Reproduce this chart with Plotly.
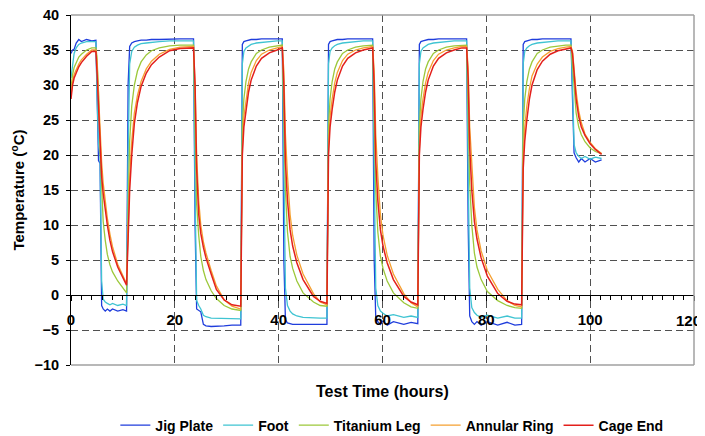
import plotly.graph_objects as go

# Test time (hours) shared by all sensors
time_h = [
    0, 0.3, 0.6, 1.0, 1.5, 2.0, 3.0, 4.0,
    4.8, 5.0, 5.3, 5.6, 5.9, 6.2, 6.6, 7.0, 7.5, 8.0, 9.0, 10.0,
    10.7, 11.0, 11.3, 11.7, 12.2, 12.8, 13.5, 14.5, 15.5, 17.0, 19.0, 21.0,
    23.6, 23.9, 24.2, 24.6, 25.0, 25.5, 26.0, 27.0, 28.0, 29.5, 31.0,
    32.7, 33.0, 33.3, 33.7, 34.2, 34.7, 35.7, 36.7, 38.2, 39.7,
    40.7, 41.0, 41.3, 41.7, 42.2, 42.7, 43.5, 44.7, 46.7, 48.0,
    49.3, 49.6, 49.9, 50.3, 50.8, 51.3, 52.3, 53.3, 54.8, 56.3,
    58.1, 58.4, 58.7, 59.1, 59.6, 60.1, 60.9, 62.1, 64.1, 65.5,
    66.8, 67.1, 67.4, 67.8, 68.3, 68.8, 69.8, 70.8, 72.3, 73.8, 75.3,
    76.2, 76.5, 76.8, 77.2, 77.7, 78.2, 79.0, 80.2, 82.2, 84.0, 85.5,
    86.8, 87.1, 87.4, 87.8, 88.3, 88.8, 89.8, 90.8, 92.3, 93.8, 95.3,
    96.3, 96.6, 96.9, 97.3, 97.8, 98.3, 99.0, 100.0, 101.0, 102.2,
]

jig_plate = [
    34.5, 35.0, 35.1, 36.0, 36.5, 36.2, 36.5, 36.3,
    36.4, 27.0, 19.2, 18.8, -1.5, -2.0, -2.3, -2.0, -2.3, -2.0, -2.3, -2.1,
    -2.3, 30.0, 35.5, 36.0, 36.2, 36.3, 36.4, 36.4, 36.5, 36.5, 36.6, 36.6,
    36.6, 10.0, -2.0, -2.2, -2.4, -4.2, -4.4, -4.5, -4.5, -4.4, -4.3,
    -4.3, 35.8, 36.2, 36.3, 36.4, 36.5, 36.5, 36.6, 36.6, 36.6,
    36.6, 5.0, -3.5, -4.0, -4.1, -4.2, -4.2, -4.2, -4.2, -4.2,
    -4.2, 35.8, 36.2, 36.3, 36.4, 36.5, 36.5, 36.6, 36.6, 36.6,
    36.6, 5.0, -3.2, -3.8, -4.2, -3.7, -4.3, -3.8, -4.2, -3.9,
    -4.1, 35.8, 36.2, 36.3, 36.4, 36.5, 36.5, 36.6, 36.6, 36.6, 36.6,
    36.6, 10.0, -3.0, -3.8, -4.2, -3.8, -4.3, -3.8, -4.3, -3.9, -4.3,
    -4.2, 35.8, 36.2, 36.3, 36.4, 36.5, 36.5, 36.6, 36.6, 36.6, 36.6,
    36.6, 28.0, 20.3, 19.6, 19.0, 19.5, 19.0, 19.5, 19.0, 19.3,
]

foot = [
    31.0, 33.0, 34.5, 35.3, 35.8, 36.0, 36.2, 36.2,
    36.2, 29.0, 21.5, 19.8, 2.0, -0.6, -1.0, -1.2, -1.4, -1.2, -1.5, -1.3,
    -1.5, 20.0, 33.0, 34.8, 35.4, 35.7, 35.9, 36.0, 36.1, 36.2, 36.3, 36.3,
    36.3, 15.0, -0.8, -1.5, -2.0, -2.9, -3.1, -3.3, -3.3, -3.4, -3.4,
    -3.4, 33.0, 34.8, 35.3, 35.6, 35.8, 36.0, 36.1, 36.2, 36.3,
    36.3, 15.0, 1.0, -1.5, -2.3, -2.7, -3.0, -3.2, -3.3, -3.3,
    -3.3, 33.0, 34.8, 35.3, 35.6, 35.8, 36.0, 36.1, 36.2, 36.3,
    36.3, 15.0, 1.0, -1.5, -2.3, -2.6, -3.0, -2.8, -3.2, -3.0,
    -3.2, 33.0, 34.8, 35.3, 35.6, 35.8, 36.0, 36.1, 36.2, 36.3, 36.3,
    36.3, 18.0, 1.0, -1.8, -2.5, -2.9, -3.2, -2.9, -3.3, -3.0, -3.3,
    -3.3, 33.0, 34.8, 35.3, 35.6, 35.8, 36.0, 36.1, 36.2, 36.3, 36.3,
    36.3, 30.0, 21.5, 20.3, 19.8, 19.5, 19.8, 19.4, 19.7, 19.5,
]

titanium_leg = [
    29.5, 31.5, 32.5, 33.3, 34.0, 34.4, 35.0, 35.3,
    35.3, 34.0, 29.0, 21.0, 15.0, 10.5, 7.8, 5.8, 4.3, 3.3, 2.0, 1.0,
    0.3, 12.0, 22.0, 27.0, 30.0, 32.0, 33.3, 34.3, 34.9, 35.3, 35.6, 35.7,
    35.7, 24.0, 13.0, 8.5, 5.5, 3.5, 2.2, 0.6, -0.5, -1.5, -2.0,
    -2.2, 24.0, 28.0, 30.5, 32.3, 33.3, 34.5, 35.0, 35.4, 35.6,
    35.7, 25.0, 15.0, 9.0, 5.5, 3.8, 2.0, 0.3, -1.0, -1.5,
    -1.6, 24.0, 28.0, 30.5, 32.3, 33.3, 34.5, 35.0, 35.4, 35.6,
    35.7, 25.0, 15.0, 9.0, 5.5, 3.8, 2.0, 0.3, -1.1, -1.7,
    -1.9, 24.0, 28.0, 30.5, 32.3, 33.3, 34.5, 35.0, 35.4, 35.6, 35.7,
    35.7, 26.0, 16.0, 10.0, 6.0, 4.0, 2.2, 0.5, -0.8, -1.5, -1.8,
    -1.9, 24.0, 28.0, 30.5, 32.3, 33.3, 34.5, 35.0, 35.4, 35.6, 35.7,
    35.7, 33.0, 29.0, 26.0, 24.0, 22.9, 21.9, 21.0, 20.5, 20.2,
]

annular_ring = [
    28.5, 30.5, 31.5, 32.3, 33.0, 33.6, 34.4, 35.0,
    35.0, 33.5, 28.5, 23.0, 19.0, 16.0, 13.0, 11.0, 8.7, 6.9, 4.4, 2.8,
    1.6, 9.0, 17.0, 22.0, 26.0, 28.5, 30.5, 32.3, 33.4, 34.4, 35.1, 35.4,
    35.5, 30.0, 20.0, 13.5, 10.0, 7.6, 6.0, 3.5, 1.3, -0.7, -1.6,
    -2.0, 21.0, 25.5, 28.0, 30.3, 31.8, 33.5, 34.4, 35.0, 35.3,
    35.5, 32.0, 23.0, 17.0, 11.5, 8.5, 5.7, 3.0, 0.2, -1.0,
    -1.4, 21.0, 25.5, 28.0, 30.3, 31.8, 33.5, 34.4, 35.0, 35.3,
    35.5, 32.0, 23.0, 17.0, 11.5, 8.5, 5.7, 3.0, 0.2, -1.1,
    -1.7, 21.0, 25.5, 28.0, 30.3, 31.8, 33.5, 34.4, 35.0, 35.3, 35.5,
    35.5, 32.5, 24.0, 18.0, 12.5, 9.3, 6.3, 3.5, 0.8, -0.8, -1.5,
    -1.7, 20.0, 24.0, 27.0, 29.5, 31.3, 33.0, 34.0, 34.8, 35.2, 35.4,
    35.5, 34.8, 32.3, 29.0, 26.3, 24.6, 23.0, 21.8, 20.9, 20.2,
]

cage_end = [
    28.0, 30.0, 31.0, 31.8, 32.6, 33.2, 34.1, 34.8,
    34.8, 32.0, 27.0, 21.0, 17.0, 14.5, 12.0, 10.0, 7.8, 6.2, 4.0, 2.4,
    1.4, 8.0, 15.0, 20.0, 24.5, 27.5, 29.8, 31.7, 32.9, 34.0, 34.9, 35.2,
    35.3, 30.0, 18.0, 11.5, 8.8, 6.8, 5.3, 3.0, 0.8, -0.7, -1.4,
    -1.6, 20.0, 24.0, 26.5, 29.0, 30.7, 32.7, 33.8, 34.6, 35.0,
    35.3, 30.0, 19.0, 13.5, 9.3, 7.0, 4.6, 2.2, -0.2, -0.9,
    -1.2, 20.0, 24.0, 26.5, 29.0, 30.7, 32.7, 33.8, 34.6, 35.0,
    35.3, 30.0, 19.0, 13.5, 9.3, 7.0, 4.6, 2.2, -0.2, -1.0,
    -1.4, 20.0, 24.0, 26.5, 29.0, 30.7, 32.7, 33.8, 34.6, 35.0, 35.3,
    35.3, 31.0, 21.0, 15.0, 10.5, 8.0, 5.3, 2.7, 0.2, -0.9, -1.3,
    -1.4, 18.0, 22.0, 25.0, 28.0, 30.0, 32.2, 33.4, 34.4, 34.9, 35.2,
    35.3, 34.5, 31.5, 28.0, 25.5, 24.0, 22.8, 21.6, 20.8, 20.1,
]

series_names = ["Jig Plate", "Foot", "Titanium Leg", "Annular Ring", "Cage End"]
series_values = [jig_plate, foot, titanium_leg, annular_ring, cage_end]
series_colors = ["#1f3ddc", "#3fc4d2", "#9cc83a", "#f5a030", "#e3201c"]
series_widths = [1.3, 1.3, 1.3, 1.3, 1.5]

x_ticks = [0, 20, 40, 60, 80, 100, 120]
x_tick_text = ["0", "20", "40", "60", "80", "100", ""]
last_x_label = "120"
y_ticks = [-10, -5, 0, 5, 10, 15, 20, 25, 30, 35, 40]

FONT = "Arial, 'Liberation Sans', sans-serif"

fig = go.Figure()
for name, vals, col, w in zip(series_names, series_values, series_colors, series_widths):
    fig.add_trace(go.Scatter(x=time_h, y=vals, mode="lines", name=name,
                             line=dict(color=col, width=w)))

grid_dash = "7px,4px"
# page body keeps an 8px default margin, so the figure is 8px smaller each way
fig.update_layout(
    width=697, height=428, autosize=False,
    margin=dict(l=63, r=11, t=7, b=71, autoexpand=False),
    paper_bgcolor="white", plot_bgcolor="white",
    font=dict(family=FONT, color="black"),
    showlegend=True,
    legend=dict(orientation="h", x=0.515, xanchor="center", y=-0.173, yanchor="middle",
                font=dict(family=FONT, size=14, weight="bold"), itemwidth=30,
                bgcolor="rgba(0,0,0,0)"),
    xaxis=dict(range=[0, 120], tickvals=x_ticks, ticktext=x_tick_text, showgrid=True,
               gridcolor="#505050",
               griddash=grid_dash, gridwidth=1, anchor="free", position=0.2,
               showline=True, linecolor="black", linewidth=1, ticks="outside", ticklen=5,
               tickcolor="black", zeroline=False, ticklabelstandoff=6,
               automargin=False, ticklabeloverflow="allow",
               tickfont=dict(family=FONT, size=15, weight="bold"),
               minor=dict(dtick=2, tick0=0, ticks="outside", ticklen=4, tickcolor="black",
                          showgrid=False)),
    yaxis=dict(range=[-10, 40], tickvals=y_ticks, showgrid=True, gridcolor="#505050",
               griddash=grid_dash, gridwidth=1, showline=True, linecolor="black",
               linewidth=1, ticks="outside", ticklen=4, tickcolor="black", zeroline=False,
               ticklabelstandoff=4, automargin=False, ticklabeloverflow="allow",
               tickfont=dict(family=FONT, size=14.5, weight="bold"),
               title=dict(text="Temperature (<sup>o</sup>C)", standoff=12,
                          font=dict(family=FONT, size=15, weight="bold"))),
    annotations=[
        dict(text="Test Time (hours)", xref="paper", yref="paper", x=0.5,
             y=-0.077, xanchor="center", yanchor="middle", showarrow=False,
             font=dict(family=FONT, size=16, weight="bold")),
        dict(text=last_x_label, xref="x", yref="y", x=x_ticks[-1], y=0,
             xanchor="right", yanchor="middle", xshift=9, yshift=-25, showarrow=False,
             font=dict(family=FONT, size=15, weight="bold")),
    ],
    shapes=[
        dict(type="line", xref="paper", yref="paper", x0=0, x1=1, y0=1, y1=1,
             line=dict(color="#a0a0a0", width=1.5), layer="above"),
        dict(type="line", xref="paper", yref="paper", x0=1, x1=1, y0=0, y1=1,
             line=dict(color="#a0a0a0", width=1.5), layer="above"),
        dict(type="line", xref="paper", yref="paper", x0=0, x1=1, y0=0, y1=0,
             line=dict(color="#a0a0a0", width=1.5), layer="above"),
    ],
)

fig.write_html("out.html")
